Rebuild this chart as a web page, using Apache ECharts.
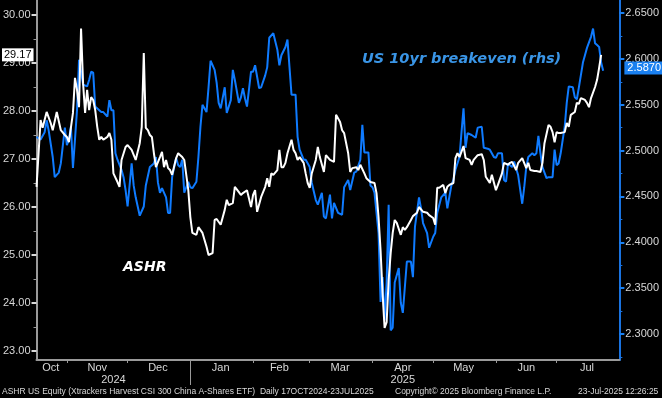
<!DOCTYPE html>
<html>
<head>
<meta charset="utf-8">
<script src="https://cdn.jsdelivr.net/npm/echarts@6.0.0/dist/echarts.min.js"></script>
<style>
  html, body { margin: 0; padding: 0; background: #000; }
  #chart { width: 662px; height: 398px; }
</style>
</head>
<body>
<div id="chart"></div>
<script>
// ASHR (lhs)
var ashrDates = [
  '2024-10-17','2024-10-19','2024-10-20','2024-10-22','2024-10-24','2024-10-25','2024-10-27','2024-10-29','2024-10-31',
  '2024-11-01','2024-11-02','2024-11-04','2024-11-05','2024-11-06','2024-11-07','2024-11-08','2024-11-09','2024-11-10',
  '2024-11-11','2024-11-12','2024-11-13','2024-11-14','2024-11-15','2024-11-16','2024-11-17','2024-11-18','2024-11-19',
  '2024-11-21','2024-11-22','2024-11-23','2024-11-24','2024-11-26','2024-11-27','2024-11-28','2024-11-30',
  '2024-12-01','2024-12-03','2024-12-05','2024-12-07','2024-12-08','2024-12-09','2024-12-10','2024-12-11','2024-12-12',
  '2024-12-13','2024-12-14','2024-12-15','2024-12-17','2024-12-18','2024-12-19','2024-12-20','2024-12-21','2024-12-22',
  '2024-12-23','2024-12-25','2024-12-26','2024-12-27','2024-12-28','2024-12-29','2024-12-31',
  '2025-01-01','2025-01-02','2025-01-04','2025-01-05','2025-01-07','2025-01-09','2025-01-10','2025-01-12','2025-01-13',
  '2025-01-14','2025-01-16','2025-01-18','2025-01-19','2025-01-20','2025-01-22','2025-01-23','2025-01-25','2025-01-26',
  '2025-01-27','2025-01-29','2025-01-31',
  '2025-02-01','2025-02-02','2025-02-03','2025-02-05','2025-02-07','2025-02-08','2025-02-09','2025-02-10','2025-02-11',
  '2025-02-13','2025-02-14','2025-02-15','2025-02-16','2025-02-17','2025-02-18','2025-02-20','2025-02-21','2025-02-22',
  '2025-02-23','2025-02-24','2025-02-26','2025-02-27','2025-02-28',
  '2025-03-01','2025-03-02','2025-03-04','2025-03-05','2025-03-06','2025-03-08','2025-03-09','2025-03-11','2025-03-13',
  '2025-03-14','2025-03-16','2025-03-17','2025-03-18','2025-03-20','2025-03-21','2025-03-22','2025-03-24','2025-03-25',
  '2025-03-26','2025-03-28','2025-03-29','2025-03-31',
  '2025-04-02','2025-04-03','2025-04-04','2025-04-05','2025-04-06','2025-04-07','2025-04-08','2025-04-09','2025-04-10',
  '2025-04-11','2025-04-12','2025-04-13','2025-04-15','2025-04-16','2025-04-17','2025-04-18','2025-04-20','2025-04-21',
  '2025-04-23','2025-04-24','2025-04-26','2025-04-28','2025-04-29',
  '2025-05-01','2025-05-02','2025-05-03','2025-05-04','2025-05-06','2025-05-07','2025-05-08','2025-05-09','2025-05-11',
  '2025-05-12','2025-05-13','2025-05-14','2025-05-16','2025-05-17','2025-05-19','2025-05-20','2025-05-21','2025-05-23',
  '2025-05-25','2025-05-26','2025-05-27','2025-05-29','2025-05-30',
  '2025-06-01','2025-06-02','2025-06-04','2025-06-05','2025-06-07','2025-06-08','2025-06-09','2025-06-11','2025-06-12',
  '2025-06-14','2025-06-16','2025-06-17','2025-06-18','2025-06-20','2025-06-21','2025-06-23','2025-06-24','2025-06-25',
  '2025-06-27','2025-06-28','2025-06-29','2025-06-30',
  '2025-07-01','2025-07-02','2025-07-03','2025-07-05','2025-07-06','2025-07-07','2025-07-08','2025-07-10','2025-07-11',
  '2025-07-12','2025-07-13','2025-07-15','2025-07-16','2025-07-17','2025-07-18','2025-07-20','2025-07-21','2025-07-22',
  '2025-07-23'
];
var ashrValues = [
  26.42,27.81,27.65,27.98,27.75,27.60,27.98,27.60,27.50,
  27.46,27.35,27.96,28.69,28.44,28.08,29.72,28.58,27.96,
  28.44,28.02,28.29,28.23,28.02,27.67,27.40,27.46,27.40,
  27.46,27.54,27.40,26.70,26.52,26.42,26.98,27.25,
  27.29,27.19,26.98,27.33,27.67,29.21,27.65,27.60,27.50,
  27.46,27.12,26.83,27.04,27.15,26.83,26.98,26.81,26.77,
  26.67,27.02,27.12,27.08,27.04,26.98,26.35,
  25.79,25.46,25.42,25.58,25.46,25.17,25.00,25.04,25.73,
  25.75,25.63,25.94,26.15,26.04,26.08,26.42,26.31,26.25,
  26.29,26.35,26.00,
  26.25,26.35,25.90,26.21,26.42,26.60,26.42,26.70,26.67,
  26.77,27.19,26.83,26.83,26.92,27.12,27.40,27.19,27.12,
  26.98,27.04,26.92,26.70,26.50,
  26.40,26.70,26.98,27.25,27.04,26.73,27.08,26.98,26.94,
  27.92,27.77,27.60,27.54,27.12,26.73,26.81,26.83,26.77,
  26.88,26.70,26.60,26.52,
  26.50,26.29,25.79,25.10,24.20,23.48,23.60,24.48,25.04,
  25.46,25.73,25.67,25.42,25.58,25.52,25.58,25.73,25.81,
  25.88,26.00,25.90,25.88,25.83,
  25.77,25.63,26.40,26.40,26.46,26.29,26.42,26.46,26.50,
  27.02,27.12,27.04,27.27,27.02,26.98,26.88,26.98,27.08,
  27.10,26.98,26.63,26.50,26.67,
  26.35,26.46,26.70,26.92,26.88,26.92,26.94,26.77,26.92,
  27.02,26.81,26.92,26.77,26.75,26.75,26.73,26.92,27.33,
  27.71,27.67,27.56,27.35,
  27.56,27.54,27.54,27.56,27.75,27.67,27.92,27.98,28.17,
  28.15,28.27,28.23,28.17,28.08,28.27,28.50,28.65,28.90,
  29.17
];

// US 10yr breakeven (rhs)
var beDates = [
  '2024-10-17','2024-10-19','2024-10-21','2024-10-22','2024-10-23','2024-10-25','2024-10-26','2024-10-28','2024-10-29',
  '2024-10-31','2024-11-01','2024-11-02','2024-11-03','2024-11-04','2024-11-05','2024-11-06','2024-11-07','2024-11-08',
  '2024-11-09','2024-11-11','2024-11-12','2024-11-13','2024-11-14','2024-11-15','2024-11-17','2024-11-18','2024-11-19',
  '2024-11-21','2024-11-22','2024-11-23','2024-11-24','2024-11-25','2024-11-26','2024-11-28','2024-11-29','2024-11-30',
  '2024-12-01','2024-12-03','2024-12-04','2024-12-05','2024-12-07','2024-12-09','2024-12-10','2024-12-12','2024-12-13',
  '2024-12-14','2024-12-15','2024-12-16','2024-12-17','2024-12-18','2024-12-20','2024-12-21','2024-12-22','2024-12-23',
  '2024-12-25','2024-12-26','2024-12-27','2024-12-28','2024-12-29','2024-12-31',
  '2025-01-01','2025-01-02','2025-01-04','2025-01-05','2025-01-06','2025-01-07','2025-01-09','2025-01-10','2025-01-11',
  '2025-01-13','2025-01-14','2025-01-15','2025-01-16','2025-01-18','2025-01-19','2025-01-21','2025-01-22','2025-01-23',
  '2025-01-25','2025-01-26','2025-01-27','2025-01-28','2025-01-29','2025-01-31',
  '2025-02-01','2025-02-02','2025-02-04','2025-02-05','2025-02-07','2025-02-08','2025-02-09','2025-02-11','2025-02-13',
  '2025-02-14','2025-02-15','2025-02-17','2025-02-18','2025-02-19','2025-02-20','2025-02-22','2025-02-23','2025-02-24',
  '2025-02-26','2025-02-27',
  '2025-03-01','2025-03-02','2025-03-04','2025-03-05','2025-03-07','2025-03-08','2025-03-09','2025-03-11','2025-03-12',
  '2025-03-13','2025-03-15','2025-03-17','2025-03-18','2025-03-20','2025-03-21','2025-03-23','2025-03-24','2025-03-26',
  '2025-03-27','2025-03-28','2025-03-30','2025-03-31',
  '2025-04-01','2025-04-02','2025-04-04','2025-04-05','2025-04-06','2025-04-07','2025-04-08','2025-04-09','2025-04-10',
  '2025-04-11','2025-04-12','2025-04-14','2025-04-15','2025-04-16','2025-04-18','2025-04-20','2025-04-21','2025-04-22',
  '2025-04-24','2025-04-25','2025-04-26','2025-04-28','2025-04-29',
  '2025-05-01','2025-05-02','2025-05-03','2025-05-05','2025-05-07','2025-05-08','2025-05-10','2025-05-11','2025-05-12',
  '2025-05-14','2025-05-15','2025-05-16','2025-05-17','2025-05-18','2025-05-20','2025-05-22','2025-05-23','2025-05-25',
  '2025-05-26','2025-05-28','2025-05-29','2025-05-31',
  '2025-06-01','2025-06-02','2025-06-04','2025-06-05','2025-06-06','2025-06-07','2025-06-09','2025-06-10','2025-06-12',
  '2025-06-14','2025-06-15','2025-06-16','2025-06-17','2025-06-19','2025-06-20','2025-06-21','2025-06-22','2025-06-23',
  '2025-06-24','2025-06-26','2025-06-27','2025-06-29','2025-06-30',
  '2025-07-01','2025-07-02','2025-07-03','2025-07-05','2025-07-06','2025-07-07','2025-07-09','2025-07-10','2025-07-11',
  '2025-07-12','2025-07-14','2025-07-15','2025-07-16','2025-07-17','2025-07-18','2025-07-19','2025-07-20','2025-07-21',
  '2025-07-22','2025-07-23','2025-07-24'
];
var beValues = [
  2.515,2.512,2.520,2.533,2.522,2.493,2.471,2.476,2.486,
  2.525,2.506,2.512,2.526,2.481,2.512,2.544,2.599,2.586,
  2.572,2.570,2.577,2.586,2.585,2.548,2.544,2.542,2.542,
  2.537,2.555,2.544,2.544,2.497,2.490,2.479,2.471,2.457,
  2.439,2.486,2.462,2.449,2.429,2.439,2.462,2.482,2.484,
  2.486,2.493,2.465,2.454,2.459,2.449,2.432,2.432,2.471,
  2.492,2.484,2.482,2.490,2.454,2.466,
  2.460,2.459,2.466,2.493,2.526,2.550,2.542,2.569,2.598,
  2.588,2.574,2.552,2.546,2.569,2.541,2.555,2.588,2.577,
  2.552,2.558,2.568,2.557,2.548,2.586,
  2.586,2.593,2.568,2.569,2.582,2.591,2.623,2.628,2.610,
  2.593,2.604,2.613,2.621,2.591,2.561,2.561,2.515,2.501,
  2.490,2.490,
  2.482,2.465,2.446,2.441,2.454,2.428,2.426,2.452,2.426,
  2.443,2.432,2.430,2.460,2.468,2.457,2.476,2.477,2.490,
  2.528,2.498,2.498,2.462,
  2.460,2.454,2.410,2.335,2.362,2.315,2.356,2.441,2.304,
  2.307,2.356,2.372,2.334,2.323,2.379,2.379,2.362,2.417,
  2.449,2.437,2.421,2.410,2.394,
  2.406,2.410,2.432,2.449,2.454,2.437,2.462,2.468,2.479,
  2.493,2.520,2.546,2.503,2.519,2.517,2.514,2.525,2.526,
  2.503,2.502,2.501,2.493,
  2.492,2.497,2.497,2.468,2.466,2.486,2.482,2.488,2.473,
  2.442,2.460,2.482,2.493,2.497,2.495,2.497,2.516,2.497,
  2.482,2.470,2.471,2.471,2.501,
  2.484,2.486,2.497,2.526,2.552,2.570,2.569,2.558,2.556,
  2.569,2.596,2.604,2.612,2.618,2.624,2.633,2.617,2.615,
  2.613,2.596,2.587
];

var leftLabels = [23, 24, 25, 26, 27, 28, 29, 30];
var leftMinor = [23.5, 24.5, 25.5, 26.5, 27.5, 28.5, 29.5];
var rightLabels = [2.30, 2.35, 2.40, 2.45, 2.50, 2.55, 2.60, 2.65];
var rightMinor = [2.275, 2.325, 2.375, 2.425, 2.475, 2.525, 2.575, 2.625];
var monthStarts = ['2024-11-01','2024-12-01','2025-01-01','2025-02-01','2025-03-01','2025-04-01','2025-05-01','2025-06-01','2025-07-01'];
var monthLabelAt = ['2024-10-24','2024-11-16','2024-12-16','2025-01-16','2025-02-14','2025-03-16','2025-04-16','2025-05-16','2025-06-16','2025-07-16'];
var monthNames = ['Jan','Feb','Mar','Apr','May','Jun','Jul','Aug','Sep','Oct','Nov','Dec'];
var yearLabelAt = ['2024-11-24','2025-04-16'];
var yearBreaks = ['2025-01-01'];

// dates -> UTC timestamps for a numeric x axis
function ts(d) { return Date.parse(d); }

var chart = echarts.init(document.getElementById('chart'));

var LEFT_MIN = 22.8125, LEFT_MAX = 30.3125;
var RIGHT_MIN = 2.2716, RIGHT_MAX = 2.6642;
var X_MIN = ts('2024-10-17'), X_MAX = ts('2025-08-01');
var labelFont = 'Liberation Sans';
var footStyle = { color: '#d8d8d8', fontSize: 8.5, fontWeight: 'normal', fontFamily: labelFont };

var option = {
  backgroundColor: '#000',
  animation: false,
  title: [
    { text: 'US 10yr breakeven (rhs)', left: 362, top: 52, padding: 0,
      textStyle: { color: '#3a95e6', fontSize: 14.5, fontStyle: 'italic', fontWeight: 'bold', fontFamily: 'DejaVu Sans' } },
    { text: 'ASHR', left: 123, top: 260, padding: 0,
      textStyle: { color: '#ffffff', fontSize: 14, fontStyle: 'italic', fontWeight: 'bold', fontFamily: 'DejaVu Sans' } },
    { text: 'ASHR US Equity (Xtrackers Harvest CSI 300 China A-Shares ETF)  Daily 17OCT2024-23JUL2025', left: 2, top: 387, padding: 0,
      textStyle: footStyle },
    { text: 'Copyright\u00a9 2025 Bloomberg Finance L.P.', left: 395, top: 387, padding: 0, textStyle: footStyle },
    { text: '23-Jul-2025 12:26:25', left: 578, top: 387, padding: 0, textStyle: footStyle }
  ],
  grid: { left: 32, right: 40, top: 0, bottom: 38, containLabel: false },
  xAxis: [
    {
      type: 'value', min: X_MIN, max: X_MAX, position: 'bottom',
      axisLine: { lineStyle: { color: '#9a9a9a', width: 2 } },
      axisTick: { customValues: monthStarts.map(ts), length: 3, lineStyle: { color: '#9a9a9a' } },
      axisLabel: {
        customValues: monthLabelAt.map(ts), margin: 2, color: '#d8d8d8', fontSize: 11, fontFamily: labelFont,
        formatter: function (v) { return monthNames[new Date(v).getUTCMonth()]; }
      },
      splitLine: { show: false }
    },
    {
      type: 'value', min: X_MIN, max: X_MAX, position: 'bottom', offset: 0,
      axisLine: { show: false },
      axisTick: { customValues: yearBreaks.map(ts), length: 25, lineStyle: { color: '#9a9a9a' } },
      axisLabel: {
        customValues: yearLabelAt.map(ts), margin: 14, color: '#d8d8d8', fontSize: 11, fontFamily: labelFont,
        formatter: function (v) { return String(new Date(v).getUTCFullYear()); }
      },
      splitLine: { show: false }
    }
  ],
  yAxis: [
    {
      type: 'value', position: 'left', min: LEFT_MIN, max: LEFT_MAX,
      axisLine: { show: true, lineStyle: { color: '#9a9a9a', width: 2 } },
      axisTick: { customValues: leftLabels, length: 5, lineStyle: { color: '#d8d8d8', width: 2 } },
      axisLabel: {
        customValues: leftLabels, margin: 6, color: '#d8d8d8', fontSize: 11, fontFamily: labelFont,
        formatter: function (v) { return v.toFixed(2); }
      },
      splitLine: { show: false }
    },
    {
      type: 'value', position: 'right', min: RIGHT_MIN, max: RIGHT_MAX,
      axisLine: { show: true, lineStyle: { color: '#1a73e0', width: 2 } },
      axisTick: { customValues: rightLabels, length: 5, lineStyle: { color: '#1a80f0', width: 2 } },
      axisLabel: {
        customValues: rightLabels, margin: 6, color: '#d8d8d8', fontSize: 11, fontFamily: labelFont,
        formatter: function (v) { return v.toFixed(4); }
      },
      splitLine: { show: false }
    },
    {
      type: 'value', position: 'left', min: LEFT_MIN, max: LEFT_MAX,
      axisLine: { show: false },
      axisTick: { customValues: leftMinor, length: 3, lineStyle: { color: '#9a9a9a' } },
      axisLabel: { show: false },
      splitLine: { show: false }
    },
    {
      type: 'value', position: 'right', min: RIGHT_MIN, max: RIGHT_MAX,
      axisLine: { show: false },
      axisTick: { customValues: rightMinor, length: 3, lineStyle: { color: '#1a73e0' } },
      axisLabel: { show: false },
      splitLine: { show: false }
    }
  ],
  series: [
    {
      name: 'US 10yr breakeven', type: 'line', yAxisIndex: 1, showSymbol: false,
      data: beDates.map(function (d, i) { return [ts(d), beValues[i]]; }),
      lineStyle: { color: '#0f7bff', width: 2 },
      markLine: {
        silent: true, symbol: 'none', animation: false,
        lineStyle: { color: 'rgba(0,0,0,0)', width: 0 },
        label: {
          show: true, position: 'end', distance: 5, formatter: beValues[beValues.length - 1].toFixed(4),
          backgroundColor: '#1a80f0', color: '#fff', fontSize: 11, fontFamily: labelFont, padding: [1, 3]
        },
        data: [{ yAxis: beValues[beValues.length - 1] }]
      }
    },
    {
      name: 'ASHR', type: 'line', yAxisIndex: 0, showSymbol: false,
      data: ashrDates.map(function (d, i) { return [ts(d), ashrValues[i]]; }),
      lineStyle: { color: '#ffffff', width: 2 },
      markLine: {
        silent: true, symbol: 'none', animation: false,
        lineStyle: { color: 'rgba(0,0,0,0)', width: 0 },
        label: {
          show: true, position: 'start', distance: 3, formatter: ashrValues[ashrValues.length - 1].toFixed(2),
          backgroundColor: '#ffffff', color: '#000', fontSize: 11, fontFamily: labelFont, padding: [1, 2]
        },
        data: [{ yAxis: ashrValues[ashrValues.length - 1] }]
      }
    }
  ]
};

chart.setOption(option);
</script>
</body>
</html>
